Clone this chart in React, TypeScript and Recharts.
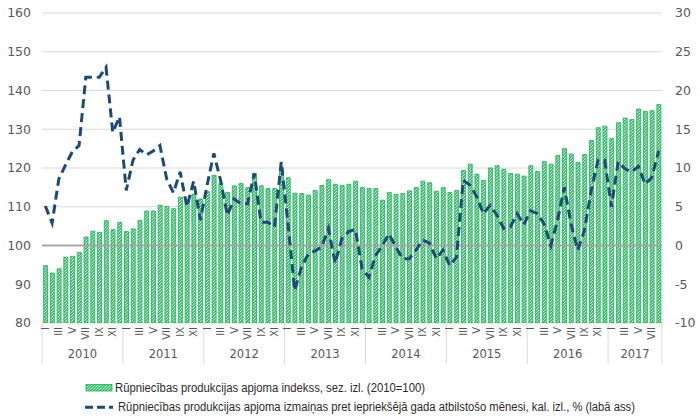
import React from 'react';
import { ComposedChart, Bar, Line, XAxis, YAxis, CartesianGrid, ReferenceLine } from 'recharts';

const years = ['2010', '2011', '2012', '2013', '2014', '2015', '2016', '2017'];
const monthLabels = ['I', '', 'III', '', 'V', '', 'VII', '', 'IX', '', 'XI', ''];

const indexValues = [
  94.8, 92.9, 94.0, 97.0, 97.2, 98.2, 102.2, 103.7, 103.4, 106.4, 104.1, 106.0,
  103.6, 104.3, 106.5, 108.9, 108.9, 110.4, 110.1, 109.5, 112.5, 111.5, 113.2, 112.0,
  113.9, 118.1, 116.0, 113.7, 115.4, 116.0, 114.9, 118.6, 115.4, 114.7, 114.7, 119.8,
  117.5, 113.5, 113.4, 113.0, 114.2, 115.5, 117.0, 115.8, 115.5, 115.8, 116.6, 115.0,
  114.7, 114.7, 111.7, 113.7, 113.2, 113.4, 114.1, 115.0, 116.6, 116.2, 114.0, 115.0,
  113.7, 114.2, 119.4, 121.0, 118.4, 116.8, 120.0, 120.6, 119.7, 118.6, 118.4, 117.9,
  120.6, 119.1, 121.7, 121.0, 123.2, 125.0, 123.6, 121.4, 123.5, 127.1, 130.4, 130.8,
  127.6, 131.7, 132.9, 132.5, 135.2, 134.6, 134.8, 136.4,
];

const yoyValues = [
  5.1, 2.9, 8.6, 10.4, 12.1, 12.9, 21.7, 21.7, 21.7, 23.0, 14.6, 16.6,
  7.1, 11.0, 12.4, 11.7, 12.2, 12.9, 8.6, 6.8, 9.5, 5.0, 8.3, 3.3,
  7.8, 11.9, 8.4, 3.9, 6.0, 5.4, 5.4, 9.3, 3.0, 3.0, 2.4, 10.8,
  2.8, -5.8, -2.8, -1.1, -0.7, -0.2, 2.2, -2.3, 0.9, 1.8, 2.1, -3.0,
  -4.1, -1.3, 0.0, 1.5, -0.2, -1.7, -1.7, -0.6, 0.7, 0.3, -1.7, -0.6,
  -2.6, -1.5, 8.4, 7.8, 6.3, 4.1, 5.2, 3.9, 2.2, 2.4, 4.1, 2.7,
  4.5, 4.1, 2.8, 0.0, 3.3, 7.5, 2.8, -0.6, 2.0, 7.1, 11.0, 11.0,
  5.0, 10.8, 9.9, 9.5, 10.2, 7.9, 8.8, 12.2,
];

const leftTicks = [80, 90, 100, 110, 120, 130, 140, 150, 160];
const rightTicks = [-10, -5, 0, 5, 10, 15, 20, 25, 30];

const legendIndex = 'Rūpniecības produkcijas apjoma indekss, sez. izl. (2010=100)';
const legendYoy = 'Rūpniecības produkcijas apjoma izmaiņas pret iepriekšējā gada atbilstošo mēnesi, kal. izl., % (labā ass)';

const data = indexValues.map((v, i) => ({ m: i, index: v, yoy: yoyValues[i] }));

const GREEN_BG = '#3dc172';
const GREEN_LINE = '#d0f4dc';
const GREEN_STROKE = '#22ad5b';
const BLUE = '#1f4a75';
const GREY_TEXT = '#595959';
const GRID = '#d9d9d9';
const ZERO_LINE = '#a3a3a3';
const FONT = "'DejaVu Sans', 'Liberation Sans', sans-serif";
const LEGEND_FONT = "'Liberation Sans', Arial, sans-serif";

const MonthTick = (props: any) => {
  const { x, y, payload } = props;
  const i = Number(payload.value);
  const half = typeof payload.offset === 'number' && payload.offset > 0 ? payload.offset : 3.37;
  const month = i % 12;
  const yi = Math.floor(i / 12);
  const total = data.length;
  const n = Math.min(12, total - yi * 12);
  const label = monthLabels[month];
  return (
    <g>
      {month === 0 && (
        <line x1={x - half} x2={x - half} y1={y} y2={y + 41} stroke={GRID} strokeWidth={1} />
      )}
      {i === total - 1 && (
        <line x1={x + half} x2={x + half} y1={y} y2={y + 41} stroke={GRID} strokeWidth={1} />
      )}
      {label && (
        <text
          x={x}
          y={y + 4}
          transform={`rotate(-90 ${x} ${y + 4})`}
          textAnchor="end"
          dominantBaseline="central"
          fontSize={10}
          fontFamily={FONT}
          fill={GREY_TEXT}
        >
          {label}
        </text>
      )}
      {month === 0 && (
        <text
          x={x - half + n * half}
          y={y + 35}
          textAnchor="middle"
          fontSize={11.5}
          fontFamily={FONT}
          fill={GREY_TEXT}
        >
          {years[yi]}
        </text>
      )}
    </g>
  );
};

const PatternDefs = ({ id }: { id: string }) => (
  <pattern id={id} patternUnits="userSpaceOnUse" width="3" height="3">
    <rect width="3" height="3" fill={GREEN_BG} />
    <path d="M-1,1 l2,-2 M0,3 l3,-3 M2,4 l2,-2" stroke={GREEN_LINE} strokeWidth="0.9" />
  </pattern>
);

export default function App() {
  return (
    <div style={{ position: 'absolute', left: 0, top: 0, width: 700, height: 420, background: '#fff' }}>
      <svg width={0} height={0} style={{ position: 'absolute' }}>
        <defs>
          <PatternDefs id="hatchBars" />
        </defs>
      </svg>
      <div style={{ position: 'absolute', left: 0, top: 0, zIndex: 1 }}>
        <ComposedChart
          width={700}
          height={420}
          data={data}
          margin={{ top: 13, right: 0, bottom: 37, left: 0 }}
          barCategoryGap="24%"
        >
          <CartesianGrid vertical={false} stroke={GRID} yAxisId="left" />
          <XAxis
            dataKey="m"
            type="category"
            interval={0}
            tick={<MonthTick />}
            tickLine={false}
            axisLine={false}
            tickSize={0}
            tickMargin={0}
            height={60}
          />
          <YAxis
            yAxisId="left"
            orientation="left"
            domain={[80, 160]}
            ticks={leftTicks}
            width={42}
            tickLine={false}
            axisLine={false}
            tickMargin={5}
            tick={{ fill: GREY_TEXT, fontSize: 12.5, fontFamily: FONT }}
            allowDataOverflow
          />
          <YAxis
            yAxisId="right"
            orientation="right"
            domain={[-10, 30]}
            ticks={rightTicks}
            width={38}
            tickLine={false}
            axisLine={false}
            tickMargin={7}
            tick={{ fill: GREY_TEXT, fontSize: 12.5, fontFamily: FONT, textAnchor: 'start' }}
            allowDataOverflow
          />
          <Bar
            yAxisId="left"
            dataKey="index"
            fill="url(#hatchBars)"
            stroke={GREEN_STROKE}
            strokeWidth={0.8}
            isAnimationActive={false}
          />
        </ComposedChart>
      </div>
      <div style={{ position: 'absolute', left: 0, top: 0, zIndex: 2, pointerEvents: 'none' }}>
        <ComposedChart
          width={700}
          height={420}
          data={data}
          margin={{ top: 13, right: 38, bottom: 97, left: 42 }}
        >
          <XAxis dataKey="m" type="number" domain={[-0.5, data.length - 0.5]} hide allowDataOverflow />
          <YAxis yAxisId="right" orientation="right" domain={[-10, 30]} ticks={rightTicks} hide allowDataOverflow />
          <CartesianGrid
            vertical={false}
            horizontalValues={[0]}
            yAxisId="right"
            stroke={ZERO_LINE}
            strokeWidth={1.5}
          />
          <ReferenceLine yAxisId="right" y={0} stroke={ZERO_LINE} strokeWidth={1.5} />
          <Line
            yAxisId="right"
            dataKey="yoy"
            type="linear"
            stroke={BLUE}
            strokeWidth={3}
            strokeDasharray="9 5"
            dot={false}
            activeDot={false}
            isAnimationActive={false}
          />
        </ComposedChart>
      </div>
      <svg width={700} height={45} style={{ position: 'absolute', left: 0, top: 375, zIndex: 3 }}>
        <defs>
          <PatternDefs id="hatchLegend" />
        </defs>
        <rect x={86} y={9.5} width={26} height={6.5} fill="url(#hatchLegend)" stroke={GREEN_STROKE} strokeWidth={0.8} />
        <text
          x={115}
          y={13}
          dominantBaseline="central"
          fontFamily={LEGEND_FONT}
          fontSize={12.5}
          fill="#2b2b2b"
          textLength={310}
          lengthAdjust="spacingAndGlyphs"
        >
          {legendIndex}
        </text>
        <line x1={85} x2={113} y1={32.3} y2={32.3} stroke={BLUE} strokeWidth={3} strokeDasharray="8 4" />
        <text
          x={118}
          y={32}
          dominantBaseline="central"
          fontFamily={LEGEND_FONT}
          fontSize={12.5}
          fill="#2b2b2b"
          textLength={517}
          lengthAdjust="spacingAndGlyphs"
        >
          {legendYoy}
        </text>
      </svg>
    </div>
  );
}
